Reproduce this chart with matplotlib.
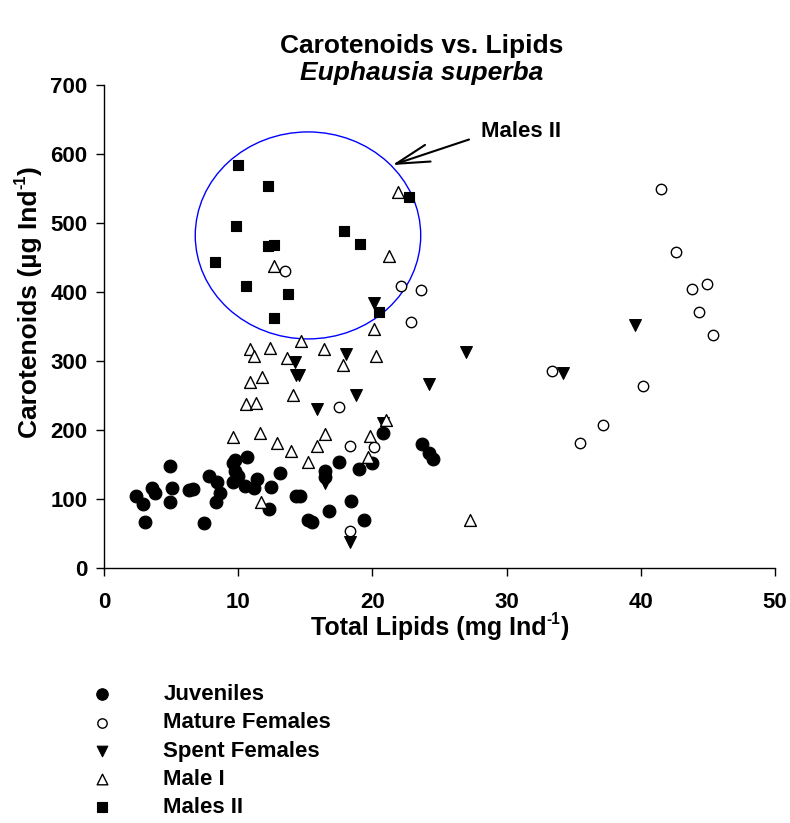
import matplotlib
matplotlib.use("Agg")
import matplotlib.pyplot as plt
from matplotlib.patches import Ellipse

plt.rcParams['font.family'] = ['Liberation Sans', 'DejaVu Sans']
plt.rcParams['font.weight'] = 'bold'

juv_x = [2.36, 2.93, 3.05, 3.6, 3.8, 4.94, 5.1, 4.94, 6.36, 6.66, 7.48, 7.82, 8.45, 8.65, 8.32,
         9.64, 9.76, 9.6, 9.76, 9.96, 10.66, 10.5, 11.18, 11.4, 12.3, 12.44, 13.1, 14.3, 14.6,
         15.2, 15.5, 16.5, 16.5, 16.8, 17.5, 18.4, 19.0, 19.4, 20.0, 20.8, 23.7, 24.2, 24.5]
juv_y = [104, 93, 66, 116, 108, 148, 116, 96, 113, 114, 65, 133, 125, 108, 96,
         125, 156, 152, 140, 133, 161, 119, 116, 129, 85, 118, 137, 105, 105,
         70, 66, 141, 132, 82, 153, 97, 143, 69, 152, 195, 179, 166, 158]

matf_x = [13.5, 17.5, 18.3, 20.1, 18.3, 22.1, 23.6, 22.9, 33.4, 35.5, 37.2, 40.2, 41.5, 42.6,
          43.8, 44.9, 44.3, 45.4]
matf_y = [430, 234, 177, 175, 53, 408, 403, 357, 286, 181, 207, 264, 550, 458,
          405, 412, 371, 337]

spent_x = [15.9, 18.75, 24.2, 16.5, 18.3, 20.8, 14.2, 14.3, 14.55, 18.0, 20.1, 27.0, 34.2, 39.6]
spent_y = [231, 251, 267, 123, 38, 210, 299, 279, 279, 310, 384, 313, 282, 352]

m1_x = [9.6, 11.6, 12.9, 11.7, 14.1, 16.5, 13.9, 15.9, 15.2, 19.8, 19.7, 21.0, 27.3, 12.7,
        21.9, 21.2, 20.1, 14.7, 10.9, 11.2, 12.4, 13.6, 16.4, 17.8, 20.3, 10.9, 11.75, 10.6, 11.3]
m1_y = [190, 195, 181, 96, 251, 194, 170, 177, 153, 191, 161, 215, 70, 437,
        545, 452, 347, 329, 318, 307, 319, 305, 318, 294, 307, 270, 277, 237, 239]

m2_x = [10.0, 12.2, 9.8, 12.25, 12.7, 8.3, 10.6, 13.7, 12.7, 22.75, 17.9, 19.1, 20.5]
m2_y = [584, 554, 495, 467, 468, 443, 408, 397, 363, 537, 489, 469, 371]

labels = ["Juveniles", "Mature Females", "Spent Females", "Male I", "Males II"]
x_ticks = [0, 10, 20, 30, 40, 50]
y_ticks = [0, 100, 200, 300, 400, 500, 600, 700]

W, H = 790, 823
fig = plt.figure(figsize=(W / 100, H / 100), dpi=100)
ax = fig.add_axes([104 / W, 1 - 568 / H, (775 - 104) / W, (568 - 85) / H])

h1 = ax.scatter(juv_x, juv_y, s=9.2**2, marker='o', facecolor='black', edgecolor='black', lw=0.8, zorder=3)
h2 = ax.scatter(matf_x, matf_y, s=7.5**2, marker='o', facecolor='white', edgecolor='black', lw=1.0, zorder=3)
h3 = ax.scatter(spent_x, spent_y, s=8.5**2, marker='v', facecolor='black', edgecolor='black', lw=0.8, zorder=3)
h4 = ax.scatter(m1_x, m1_y, s=8.5**2, marker='^', facecolor='white', edgecolor='black', lw=1.0, zorder=3)
h5 = ax.scatter(m2_x, m2_y, s=7.8**2, marker='s', facecolor='black', edgecolor='black', lw=0.8, zorder=3)

ax.add_patch(Ellipse((15.2, 482), 16.8, 300, fill=False, edgecolor='#0000ff', lw=1.0, zorder=2))
ax.annotate('', xy=(21.48, 584), xytext=(27.2, 621),
            arrowprops=dict(arrowstyle='->,head_length=2.4,head_width=0.63', lw=1.5,
                            color='black', mutation_scale=10, shrinkA=0, shrinkB=0))
ax.text(28.1, 633, 'Males II', fontsize=16, fontweight='bold', va='center', ha='left')

ax.set_xlim(0, 50)
ax.set_ylim(0, 700)
ax.set_xticks(x_ticks)
ax.set_yticks(y_ticks)
ax.tick_params(direction='out', length=6, width=1, labelsize=16)
ax.tick_params(axis='x', pad=11)
ax.tick_params(axis='y', pad=6)
for lab in ax.get_xticklabels() + ax.get_yticklabels():
    lab.set_fontweight('bold')
ax.spines['top'].set_visible(False)
ax.spines['right'].set_visible(False)
ax.spines['left'].set_linewidth(1)
ax.spines['bottom'].set_linewidth(1)

# x label with small superscript "-1"
fsx = 18
tx1 = fig.text(0.3, 1 - 640 / H, 'Total Lipids (mg Ind', fontsize=fsx, fontweight='bold',
               ha='left', va='bottom')
tx2 = ax.annotate('-1', xy=(1.0, 0.55), xycoords=tx1, fontsize=fsx * 0.62,
                  fontweight='bold', ha='left', va='bottom')
tx3 = ax.annotate(')', xy=(1.0, 0.0), xycoords=(tx2, tx1), fontsize=fsx,
                  fontweight='bold', ha='left', va='bottom')

# y label with small superscript "-1"
fsy = 19
ty1 = fig.text(30 / W, 0.3, 'Carotenoids (µg Ind', fontsize=fsy, fontweight='bold',
               rotation=90, ha='center', va='bottom')
ty2 = ax.annotate('-1', xy=(0.45, 1.0), xycoords=ty1, fontsize=fsy * 0.62,
                  fontweight='bold', rotation=90, ha='right', va='bottom')
ty3 = ax.annotate(')', xy=(1.0, 1.0), xycoords=(ty1, ty2), fontsize=fsy,
                  fontweight='bold', rotation=90, ha='right', va='bottom')

fig.text(422 / W, 1 - 46 / H, 'Carotenoids vs. Lipids', fontsize=19, fontweight='bold',
         ha='center', va='center')
fig.text(422 / W, 1 - 73 / H, 'Euphausia superba', fontsize=19, fontweight='bold',
         style='italic', ha='center', va='center')

leg = fig.legend([h1, h2, h3, h4, h5], labels, loc='upper left',
                 bbox_to_anchor=(80 / W, 1 - 684 / H), frameon=False, fontsize=16,
                 handlelength=2.0, handletextpad=1.75, labelspacing=0.33, borderpad=0,
                 borderaxespad=0, scatterpoints=1, markerscale=0.9)
for t in leg.get_texts():
    t.set_fontweight('bold')

# center the composite labels
fig.canvas.draw()
r = fig.canvas.get_renderer()
b1 = tx1.get_window_extent(r)
b3 = tx3.get_window_extent(r)
total = b3.x1 - b1.x0
tx1.set_x((440 - total / 2) / W)
c1 = ty1.get_window_extent(r)
c3 = ty3.get_window_extent(r)
totaly = c3.y1 - c1.y0
ty1.set_y((H - 302 - totaly / 2) / H)

fig.savefig('out.png', dpi=100)
